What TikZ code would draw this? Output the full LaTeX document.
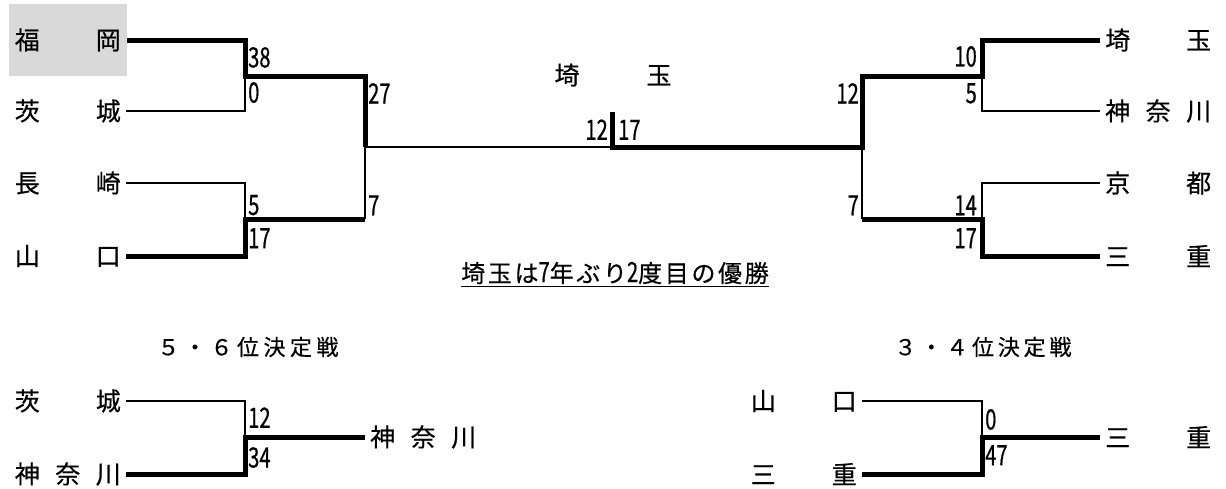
\documentclass[tikz,border=0pt]{standalone}
\usepackage{fontspec}
\setmainfont[FakeBold=0.5]{Noto Sans CJK JP}
\newfontfamily\scorefont[FakeStretch=0.72, FakeBold=0.6]{Noto Sans CJK JP}
\newfontfamily\widefont[LetterSpace=11, FakeBold=0.5]{Noto Sans CJK JP}
\usetikzlibrary{positioning}

\newcommand{\twoname}[2]{\makebox[106pt]{#1\hfill#2}}
\newcommand{\threename}[3]{\makebox[106pt]{#1\hfill#2\hfill#3}}

\begin{document}
\begin{tikzpicture}[
  x=1pt, y=-1pt,
  team/.style={inner xsep=5pt, inner ysep=0pt, font=\fontsize{25}{25}\selectfont},
  score/.style={inner sep=0pt, font=\scorefont\fontsize{28}{28}\selectfont},
  heading/.style={inner sep=0pt, font=\fontsize{22}{22}\selectfont},
  win/.style={draw, line width=5pt},
  lose/.style={draw, line width=2.2pt}
]
\useasboundingbox (0,0) rectangle (1226,488);

% teams
\node[team, anchor=east, fill=black!15, minimum height=72pt, inner xsep=6pt] (fukuoka) at (127,40) {\twoname{福}{岡}};
\node[team, anchor=east] (ibaraki) at (126,111) {\twoname{茨}{城}};
\node[team, anchor=east] (nagasaki) at (126,183) {\twoname{長}{崎}};
\node[team, anchor=east] (yamaguchi) at (126,256) {\twoname{山}{口}};
\node[team, anchor=west] (saitama) at (1100,40) {\twoname{埼}{玉}};
\node[team, anchor=west] (kanagawa) at (1100,111) {\threename{神}{奈}{川}};
\node[team, anchor=west] (kyoto) at (1100,183) {\twoname{京}{都}};
\node[team, anchor=west] (mie) at (1100,256) {\twoname{三}{重}};

\node[team, anchor=east] (ibarakiB) at (126,401) {\twoname{茨}{城}};
\node[team, anchor=east] (kanagawaB) at (126,474) {\threename{神}{奈}{川}};
\node[team, anchor=west] (kanagawaW) at (365,437) {\threename{神}{奈}{川}};
\node[team, anchor=east] (yamaguchiB) at (862,401) {\twoname{山}{口}};
\node[team, anchor=east] (mieB) at (862,474) {\twoname{三}{重}};
\node[team, anchor=west] (mieW) at (1100,437) {\twoname{三}{重}};

% headings
\node[team, inner xsep=0pt] (champ) at (613,75) {\makebox[117pt]{埼\hfill{}玉}};
\node[inner sep=0pt, font=\widefont\fontsize{24}{24}\selectfont] (note) at (615,273) {埼玉は{\scorefont\fontsize{28}{24}\selectfont 7}年ぶり{\scorefont\fontsize{28}{24}\selectfont 2}度目の優勝};
\node[heading] (title56) at (248,347) {\makebox[181pt]{５\hfill{}・\hfill{}６\hfill{}位\hfill{}決\hfill{}定\hfill{}戦}};
\node[heading] (title34) at (983,347) {\makebox[177pt]{３\hfill{}・\hfill{}４\hfill{}位\hfill{}決\hfill{}定\hfill{}戦}};

% junctions
\coordinate (j1) at (245,76);
\coordinate (j2) at (245,219);
\coordinate (a2) at (365,219);
\coordinate (sf) at (365,147);
\coordinate (fin) at (612,147);
\coordinate (top) at (612,112);
\coordinate (sfR) at (862,147);
\coordinate (j3) at (982,76);
\coordinate (j4) at (982,219);
\coordinate (b2) at (862,219);
\coordinate (j5) at (245,437);
\coordinate (j6) at (982,437);

% bracket lines
\draw[win] (fukuoka.east) -| (j1) -| (sf);
\draw[lose] (ibaraki.east) -| (j1);
\draw[lose] (nagasaki.east) -| (j2);
\draw[win] (yamaguchi.east) -| (j2) -- (a2);
\draw[lose] (a2) -- (sf) -- (fin);
\draw[win] (saitama.west) -| (j3) -| (sfR) -| (top);
\draw[lose] (kanagawa.west) -| (j3);
\draw[lose] (kyoto.west) -| (j4);
\draw[win] (mie.west) -| (j4) -- (b2);
\draw[lose] (b2) -- (sfR);

\draw[lose] (ibarakiB.east) -| (j5);
\draw[win] (kanagawaB.east) -| (j5) -- (kanagawaW.west);
\draw[lose] (yamaguchiB.east) -| (j6);
\draw[win] (mieB.east) -| (j6) -- (mieW.west);

\draw[line width=1.6pt] ([yshift=-4.5pt]note.base west) -- ([yshift=-4.5pt]note.base east);

% scores
\node[score, above right=8pt and 3pt of j1] (s1a) {38};
\node[score, below right=6pt and 3pt of j1] (s1b) {0};
\node[score, above right=3.5pt and 3pt of j2] (s2a) {5};
\node[score, below right=9pt and 3pt of j2] (s2b) {17};
\node[score, below right=7pt and 3pt of j1 -| sf] (s3a) {27};
\node[score, above right=3.5pt and 3pt of a2] (s3b) {7};
\node[score, above left=7pt and 4pt of fin] (s4a) {12};
\node[score, above right=7pt and 6pt of fin] (s4b) {17};
\node[score, below left=7pt and 3pt of j3 -| sfR] (s5a) {12};
\node[score, above left=3.5pt and 3pt of b2] (s5b) {7};
\node[score, above left=9pt and 5pt of j3] (s6a) {10};
\node[score, below left=7pt and 5pt of j3] (s6b) {5};
\node[score, above left=3.5pt and 5pt of j4] (s7a) {14};
\node[score, below left=9pt and 5pt of j4] (s7b) {17};
\node[score, above right=9pt and 3pt of j5] (s8a) {12};
\node[score, below right=10pt and 3pt of j5] (s8b) {34};
\node[score, above right=7pt and 3pt of j6] (s9a) {0};
\node[score, below right=8pt and 3pt of j6] (s9b) {47};
\end{tikzpicture}
\end{document}
